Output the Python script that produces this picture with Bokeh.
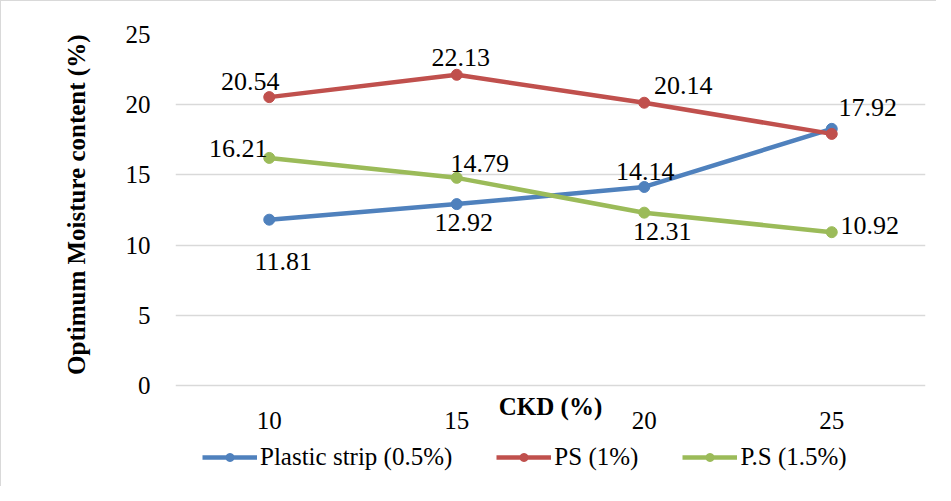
import math
from bokeh.plotting import figure
from bokeh.models import (ColumnDataSource, FixedTicker, Legend, LegendItem, Range1d,
                          LinearAxis, Title)
from bokeh.core.properties import value
from bokeh.embed import file_html
from bokeh.resources import INLINE

# ---- data ----
ckd = [10, 15, 20, 25]
x_tick_labels = ["10", "15", "20", "25"]
y_ticks = [0, 5, 10, 15, 20, 25]
series_names = ["Plastic strip (0.5%)", "PS (1%)", "P.S (1.5%)"]
plastic_strip_05 = [11.81, 12.92, 14.14, 18.28]
ps_1 = [20.54, 22.13, 20.14, 17.92]
ps_15 = [16.21, 14.79, 12.31, 10.92]
plastic_strip_labels = ["11.81", "12.92", "14.14", ""]
ps_1_labels = ["20.54", "22.13", "20.14", "17.92"]
ps_15_labels = ["16.21", "14.79", "12.31", "10.92"]
x_title = "CKD (%)"
y_title = "Optimum Moisture content (%)"

# ---- styles ----
colors = ["#4F81BD", "#C0504D", "#9BBB59"]
label_dx = [[14, 7, 1, 0], [-19, 4, 39, 36], [-31, 23, 18, 38]]
label_dy = [[42, 18, -15, 0], [-16, -17, -17, -26], [-9, -14, 19, -7]]
FONT = "Liberation Serif"

W, H = 935, 485
FL, FR, FT = 174, 11, 33
PLOT_H = 351            # pixel height of the 0..25 value band
Y_MAX = 25
px_per_unit = PLOT_H / Y_MAX
extra_below = H - FT - PLOT_H   # legend / axis band kept inside the frame
y_start = -extra_below / px_per_unit

p = figure(width=W, height=H, output_backend="svg", toolbar_location=None,
           x_range=Range1d(7.5, 27.5), y_range=Range1d(y_start, Y_MAX),
           x_axis_location=None,
           min_border_left=FL, min_border_right=FR, min_border_top=FT, min_border_bottom=0)
p.frame_width = W - FL - FR
p.frame_height = H - FT
p.outline_line_color = None
p.background_fill_color = "white"
p.border_fill_color = "white"
p.styles = {"border-left": "1px solid #D9D9D9", "border-top": "1px solid #D9D9D9"}

p.xgrid.visible = False
p.ygrid.grid_line_color = "#D9D9D9"
p.ygrid.grid_line_width = 1.3
p.ygrid.ticker = FixedTicker(ticks=y_ticks)

# x axis A: title only, drawn at y = 0
ax_a = LinearAxis(ticker=FixedTicker(ticks=[]), axis_label=x_title, fixed_location=0,
                  major_label_standoff=0,
                  axis_label_standoff=7, axis_label_text_font=FONT,
                  axis_label_text_font_size="25px", axis_label_text_font_style="bold",
                  axis_label_text_color="#000000")
# x axis B: tick labels, drawn at y = 0
ax_b = LinearAxis(ticker=FixedTicker(ticks=ckd), fixed_location=0,
                  major_label_overrides={c: t for c, t in zip(ckd, x_tick_labels)},
                  major_label_standoff=26, major_label_text_font=FONT,
                  major_label_text_font_size="25px", major_label_text_color="#000000")
for ax in (ax_a, ax_b, p.yaxis[0]):
    ax.axis_line_color = None
    ax.major_tick_line_color = None
    ax.minor_tick_line_color = None
    ax.major_tick_out = 0
    ax.major_tick_in = 0
    ax.minor_tick_out = 0
p.add_layout(ax_a, "below")
p.add_layout(ax_b, "below")

p.yaxis.ticker = FixedTicker(ticks=y_ticks)
p.yaxis.major_label_text_font = FONT
p.yaxis.major_label_text_font_size = "25px"
p.yaxis.major_label_text_color = "#000000"
p.yaxis.major_label_standoff = 25

p.add_layout(Title(text=y_title, align="right", offset=0, standoff=66,
                   text_font=FONT, text_font_size="25px", text_font_style="bold",
                   text_color="#000000"), "left")

all_vals = [plastic_strip_05, ps_1, ps_15]
all_labels = [plastic_strip_labels, ps_1_labels, ps_15_labels]
items = []
for name, vals, col in zip(series_names, all_vals, colors):
    src = ColumnDataSource(dict(x=ckd, y=vals))
    ln = p.line("x", "y", source=src, line_color=col, line_width=4.5)
    sc = p.scatter("x", "y", source=src, size=11, fill_color=col, line_color=col)
    items.append(LegendItem(label=name, renderers=[ln, sc]))

for vals, labs, dx, dy in zip(all_vals, all_labels, label_dx, label_dy):
    lsrc = ColumnDataSource(dict(x=ckd, y=vals, t=labs, dx=dx, dy=dy))
    p.text("x", "y", text="t", source=lsrc, x_offset="dx", y_offset="dy",
           text_font=value(FONT), text_font_size="26px", text_color="#000000",
           text_align="center", text_baseline="middle")

legend = Legend(items=items, orientation="horizontal", location=(27, 15),
                glyph_width=55, glyph_height=20, label_height=20, label_standoff=3, spacing=44,
                padding=0, margin=0, border_line_color=None, background_fill_alpha=0,
                label_text_font=FONT, label_text_font_size="25px",
                label_text_color="#000000")
p.add_layout(legend, "center")

open("out.html", "w").write(file_html(p, INLINE))
